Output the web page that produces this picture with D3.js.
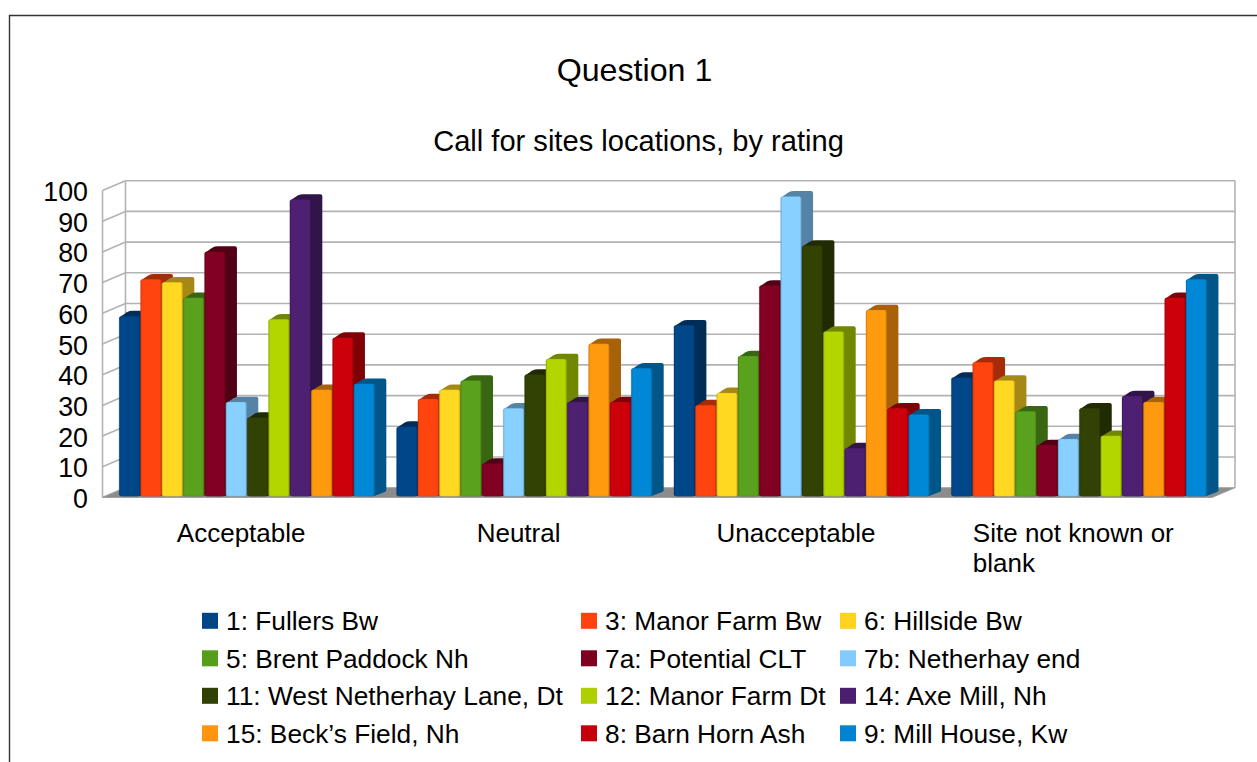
<!DOCTYPE html>
<html>
<head>
<meta charset="utf-8">
<script src="https://cdn.jsdelivr.net/npm/d3@7/dist/d3.min.js"></script>
<style>
html,body{margin:0;padding:0;background:#fff;overflow:hidden}
svg{display:block}
text{font-family:"Liberation Sans",Arial,sans-serif;fill:#000}
</style>
</head>
<body>
<svg id="chart" width="1257" height="762"></svg>
<script>
const titleText = "Question 1";
const subtitleText = "Call for sites locations, by rating";
const categories = ["Acceptable", "Neutral", "Unacceptable", "Site not known or\nblank"];
const seriesNames = ["1: Fullers Bw", "3: Manor Farm Bw", "6: Hillside Bw", "5: Brent Paddock Nh", "7a: Potential CLT", "7b: Netherhay end", "11: West Netherhay Lane, Dt", "12: Manor Farm Dt", "14: Axe Mill, Nh", "15: Beck\u2019s Field, Nh", "8: Barn Horn Ash", "9: Mill House, Kw"];
const seriesColors = ["#004586", "#ff420e", "#ffd320", "#579d1c", "#7e0021", "#83caff", "#314004", "#aecf00", "#4b1f6f", "#ff950e", "#c5000b", "#0084d1"];
const acceptable = [58, 70, 69, 64, 79, 30, 25, 57, 96, 34, 51, 36];
const neutral = [22, 31, 34, 37, 10, 28, 39, 44, 30, 49, 30, 41];
const unacceptable = [55, 29, 33, 45, 68, 97, 81, 53, 15, 60, 28, 26];
const siteNotKnown = [38, 43, 37, 27, 16, 18, 28, 19, 32, 30, 64, 70];
const valuesByCategory = [acceptable, neutral, unacceptable, siteNotKnown];
const yTicks = [0, 10, 20, 30, 40, 50, 60, 70, 80, 90, 100];

const svg = d3.select("#chart");
const defs = svg.append("defs");

// geometry of the 3D box
const left = 102.5, right = 1212, y0 = 497.5, y100 = 190.5;
const wallDx = 23, wallDy = 9.8;
const barDx = 11.7, barDy = 5.3, barInsetX = 6, barLift = 3.3;

const y = d3.scaleLinear().domain([0, 100]).range([y0, y100]);
const x0 = d3.scaleBand().domain(categories).range([left, right]);
const x1 = d3.scaleBand().domain(seriesNames).range([10.7, 266.7]);
const barW = x1.bandwidth() - 0.6;

// page frame
svg.append("path").attr("d", "M9.5,762V15.5H1257").attr("fill", "none").attr("stroke", "#333").attr("stroke-width", 1.4);

// titles
svg.append("text").attr("x", 634.5).attr("y", 81).attr("text-anchor", "middle").attr("font-size", 32.2).text(titleText);
svg.append("text").attr("x", 638.5).attr("y", 151).attr("text-anchor", "middle").attr("font-size", 29.1).text(subtitleText);

// walls
const wall = svg.append("g").attr("fill", "none").attr("stroke", "#b3b3b3").attr("stroke-width", 1.6);
wall.selectAll("line.grid").data(yTicks.filter(d => d > 0)).join("line").attr("class", "grid")
  .attr("x1", left + wallDx).attr("x2", right + wallDx)
  .attr("y1", d => y(d) - wallDy).attr("y2", d => y(d) - wallDy);
wall.selectAll("line.side").data(yTicks).join("line").attr("class", "side")
  .attr("x1", left).attr("x2", left + wallDx)
  .attr("y1", d => y(d)).attr("y2", d => y(d) - wallDy);
wall.append("line").attr("x1", left).attr("x2", left).attr("y1", y(0)).attr("y2", y(100));
wall.append("line").attr("x1", left + wallDx).attr("x2", left + wallDx).attr("y1", y(0) - wallDy).attr("y2", y(100) - wallDy);
wall.append("line").attr("x1", right + wallDx).attr("x2", right + wallDx).attr("y1", y(0) - wallDy).attr("y2", y(100) - wallDy);

// floor
svg.append("path")
  .attr("d", `M${left},${y(0)}L${left + wallDx},${y(0) - wallDy}L${right + wallDx},${y(0) - wallDy}L${right},${y(0)}Z`)
  .attr("fill", "#8c8c8c").attr("stroke", "#a0a0a0").attr("stroke-width", 1);

// y axis labels
const axis = d3.axisLeft(y).tickValues(yTicks).tickSize(0).tickPadding(0);
const axisG = svg.append("g").attr("transform", "translate(88,1.5)").call(axis);
axisG.select(".domain").remove();
axisG.selectAll("text").attr("font-size", 26.8).attr("font-family", '"Liberation Sans",Arial,sans-serif').attr("fill", "#000");

// gradients for the bevelled front faces
seriesColors.forEach((c, i) => {
  const base = d3.rgb(c).brighter(0.08);
  const edge = d3.rgb(c).darker(0.5);
  const g = defs.append("linearGradient").attr("id", "front" + i);
  [[0, edge], [0.08, base], [0.92, base], [1, edge]].forEach(([o, col]) => {
    g.append("stop").attr("offset", o).attr("stop-color", col.formatHex());
  });
});

function shade(c) {
  const k = 0.65, r = d3.rgb(c);
  return d3.rgb(r.r * k, r.g * k, r.b * k).formatHex();
}

// bars
const rows = categories.flatMap((cat, ci) => seriesNames.map((s, si) => ({
  cat, s, si, v: valuesByCategory[ci][si]
})));
const bars = svg.append("g").selectAll("g").data(rows).join("g");
const bx = d => x0(d.cat) + x1(d.s) + barInsetX;
const topY = d => y(d.v) - barLift;
const botY = () => y(0) - 1.3;

// side and top faces share one rounded silhouette
bars.append("path")
  .attr("d", d => {
    const l = bx(d), r = l + barW, t = topY(d), b = botY();
    const tt = t - barDy, rr = r + barDx;
    return `M${l + 0.5},${t + 1}L${l + barDx - 4},${tt + 1.4}Q${l + barDx - 1.5},${tt} ${l + barDx + 2},${tt}` +
      `L${rr - 2},${tt}Q${rr},${tt} ${rr},${tt + 2}L${rr},${b - barDy - 1}Q${rr},${b - barDy + 0.3} ${rr - 1.5},${b - barDy + 1}L${r - 1},${b}Z`;
  })
  .attr("fill", d => shade(seriesColors[d.si]));
bars.append("rect")
  .attr("x", bx).attr("y", topY).attr("width", barW)
  .attr("height", d => botY() - topY(d))
  .attr("rx", 2.5).attr("ry", 2)
  .attr("fill", d => `url(#front${d.si})`)
  .attr("stroke", d => d3.rgb(seriesColors[d.si]).darker(0.7).formatHex())
  .attr("stroke-opacity", 0.3).attr("stroke-width", 0.8);

// category labels
const catG = svg.append("g").attr("font-size", 26);
categories.forEach(cat => {
  const lines = cat.split("\n");
  const t = catG.append("text");
  lines.forEach((line, i) => t.append("tspan").attr("y", 542.3 + i * 29.5).attr("x", 0).text(line));
  const w = d3.max(t.selectAll("tspan").nodes(), n => n.getComputedTextLength());
  t.selectAll("tspan").attr("x", x0(cat) + x0.bandwidth() / 2 - w / 2);
});

// legend
const legendColX = [202, 581, 840];
const legendRowY = [630, 667.5, 705, 742.5];
const legend = svg.append("g").selectAll("g").data(seriesNames).join("g")
  .attr("transform", (d, i) => `translate(${legendColX[i % 3]},${legendRowY[Math.floor(i / 3)]})`);
legend.append("rect").attr("x", 0).attr("y", -17.2).attr("width", 16).attr("height", 16)
  .attr("fill", (d, i) => seriesColors[i]);
legend.append("text").attr("x", 24).attr("y", 0).attr("font-size", 26.3).text(d => d);
</script>
</body>
</html>
